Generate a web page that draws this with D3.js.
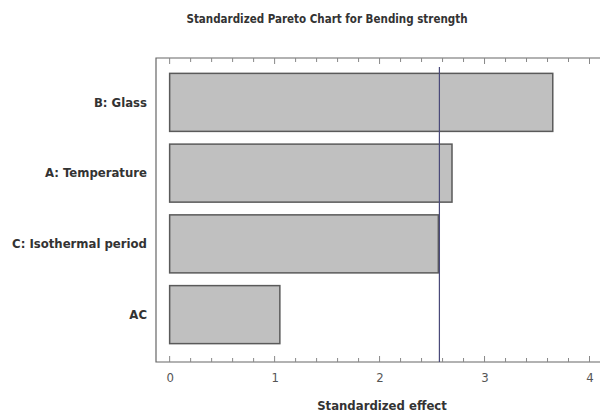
<!DOCTYPE html>
<html>
<head>
<meta charset="utf-8">
<script src="https://cdnjs.cloudflare.com/ajax/libs/d3/7.8.5/d3.min.js"></script>
<style>
  body { margin: 0; background: #fff; }
  svg { display: block; }
  text { font-family: "Liberation Sans Narrow", "DejaVu Sans Condensed", sans-serif; fill: #333; }
</style>
</head>
<body>
<svg width="600" height="415"></svg>
<script>
var factors = ["B: Glass", "A: Temperature", "C: Isothermal period", "AC"];
var effects = [3.65, 2.69, 2.56, 1.05];
var critical = 2.57;
var xTicks = [0, 1, 2, 3, 4];

var svg = d3.select("svg");

var plotLeft = 156, plotRight = 600, plotTop = 58, plotBottom = 362;

var xScale = d3.scaleLinear()
    .domain([-0.13, 4.1])
    .range([plotLeft, plotRight]);

var yScale = d3.scaleBand()
    .domain(factors)
    .range([67, 350])
    .paddingInner(0.18)
    .paddingOuter(0.09);

// frame
svg.append("path")
    .attr("d", "M" + plotRight + "," + plotTop + "H" + plotLeft + "V" + plotBottom + "H" + plotRight)
    .attr("fill", "none")
    .attr("stroke", "#666")
    .attr("stroke-width", 1.2);

///////////////////// X AXIS ////////////////////
var minor = d3.range(0, 4.01, 0.2);

var xAxis = d3.axisBottom(xScale)
    .tickValues(xTicks)
    .tickSize(0)
    .tickPadding(11)
    .tickFormat(d3.format("d"));

svg.append("g")
    .attr("class", "xaxis")
    .attr("transform", "translate(0," + plotBottom + ")")
    .call(xAxis)
    .call(function (g) { g.select(".domain").remove(); })
    .selectAll("text")
    .attr("font-size", "13px")
    .style("fill", "#555");

// ticks on bottom and top edge
[plotBottom, plotTop].forEach(function (yy) {
    var dir = yy === plotBottom ? -1 : 1;
    svg.append("g").selectAll("line")
        .data(minor)
        .enter().append("line")
        .attr("x1", function (d) { return xScale(d); })
        .attr("x2", function (d) { return xScale(d); })
        .attr("y1", yy)
        .attr("y2", function (d) {
            var major = Math.abs(d - Math.round(d)) < 1e-6;
            return yy + dir * (major ? 6 : 4);
        })
        .attr("stroke", "#888")
        .attr("stroke-width", 1);
});

svg.append("text")
    .attr("text-anchor", "middle")
    .attr("x", 382)
    .attr("y", 410)
    .attr("font-size", "13px")
    .attr("font-weight", "bold")
    .text("Standardized effect");
/////////////////////////////////////////////////////

///////////////////// BARS ////////////////////
svg.append("g").selectAll("rect")
    .data(factors)
    .enter().append("rect")
    .attr("x", xScale(0))
    .attr("y", function (d) { return yScale(d); })
    .attr("width", function (d, i) { return xScale(effects[i]) - xScale(0); })
    .attr("height", yScale.bandwidth())
    .attr("fill", "#c0c0c0")
    .attr("stroke", "#5a5a5a")
    .attr("stroke-width", 1.5);

///////////////////// Y LABELS ////////////////////
var yAxis = d3.axisLeft(yScale)
    .tickSize(0)
    .tickPadding(0);

svg.append("g")
    .attr("class", "yaxis")
    .attr("transform", "translate(147,0)")
    .call(yAxis)
    .call(function (g) { g.select(".domain").remove(); })
    .selectAll("text")
    .attr("font-size", "13px")
    .attr("font-weight", "bold")
    .style("fill", "#333");

// critical value line
svg.append("line")
    .attr("x1", xScale(critical))
    .attr("x2", xScale(critical))
    .attr("y1", 67)
    .attr("y2", plotBottom)
    .attr("stroke", "#4a4a7a")
    .attr("stroke-width", 1.2);

// title
svg.append("text")
    .attr("text-anchor", "middle")
    .attr("x", 327)
    .attr("y", 23)
    .attr("font-size", "11.5px")
    .attr("font-weight", "bold")
    .text("Standardized Pareto Chart for Bending strength");
</script>
</body>
</html>
